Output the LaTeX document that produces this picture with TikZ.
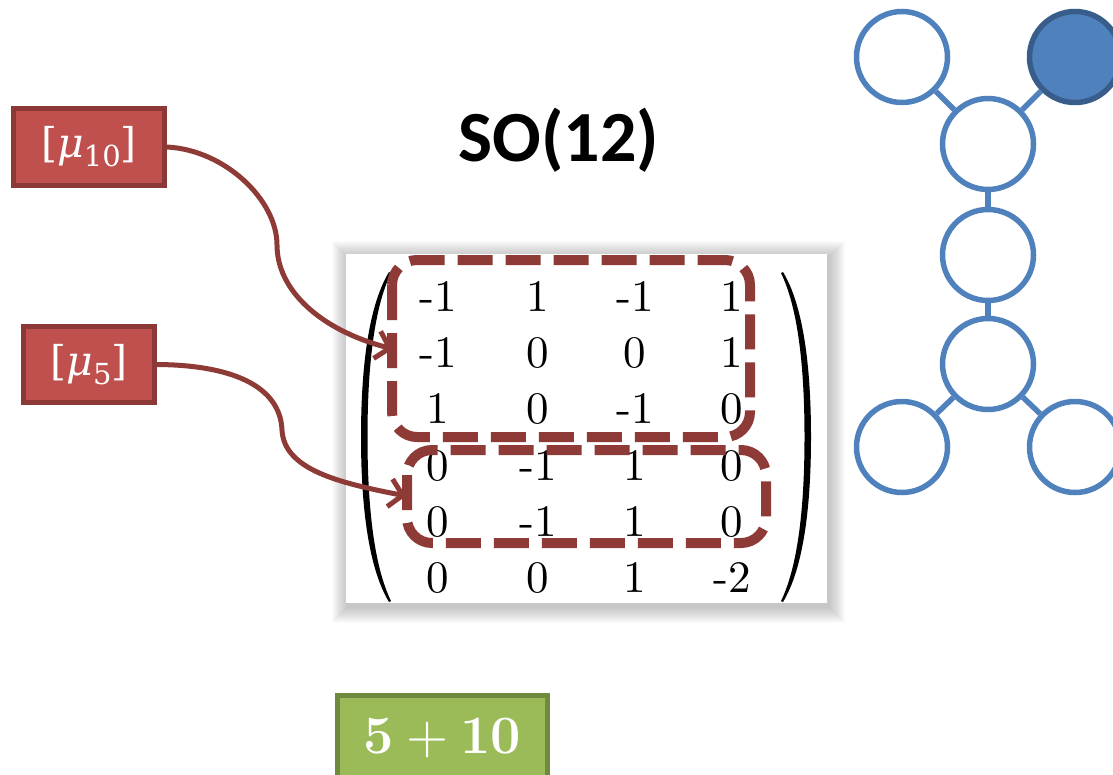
\documentclass[tikz,border=0pt]{standalone}
\usepackage{fontspec}
\usepackage{unicode-math}
\setmathfont{Latin Modern Math}
\newfontfamily\titlefont{Carlito}
\newfontfamily\labelfont{DejaVu Serif}
\newfontfamily\cmten{lmroman10-regular}[Extension=.otf]
\usetikzlibrary{arrows.meta}

\definecolor{boxred}{HTML}{C0504D}
\definecolor{edgered}{HTML}{8C3836}
\definecolor{linkred}{HTML}{8E3A37}
\definecolor{dynblue}{HTML}{4F81BD}
\definecolor{dynedge}{HTML}{385D8A}
\definecolor{boxgreen}{HTML}{9BBB59}
\definecolor{edgegreen}{HTML}{71893F}

% weight label: bracket, italic mu, lowered index, bracket
\newcommand{\weightlabel}[1]{[\textit{μ}\raisebox{-0.22em}{\fontsize{29}{30}\selectfont #1}]}

\tikzset{
  weightbox/.style={draw=edgered, fill=boxred, line width=5pt, text=white,
    inner sep=0pt, font=\labelfont\fontsize{41}{48}\selectfont},
  sumbox/.style={draw=edgegreen, fill=boxgreen, line width=5pt, text=white,
    inner sep=0pt, font=\fontsize{54}{60}\selectfont},
  entry/.style={anchor=base, inner sep=0pt, font=\cmten\fontsize{45}{50}\selectfont},
  group/.style={draw=linkred, line width=10pt, rounded corners=25pt,
    dash pattern=on 35pt off 13pt},
  link/.style={draw=linkred, line width=5pt,
    -{Straight Barb[length=13pt,width=28pt]}},
  dyn/.style={circle, draw=dynblue, fill=white, line width=5.5pt,
    minimum size=91pt, inner sep=0pt},
  dynfull/.style={dyn, draw=dynedge, fill=dynblue},
  dynlink/.style={draw=dynblue, line width=5.5pt},
}

\begin{document}
\begin{tikzpicture}[x=1pt, y=-1pt]
\useasboundingbox (0,0) rectangle (1113,774);
\clip (0,0) rectangle (1113,774);

% title
\node[font=\titlefont\bfseries\fontsize{72}{84}\selectfont] (title) at (559,140) {SO(12)};

% weight boxes
\node[weightbox, minimum width=151pt, minimum height=77pt] (w10) at (89,147) {\weightlabel{10}};
\node[weightbox, minimum width=131pt, minimum height=76pt] (w5) at (89,364.5) {\weightlabel{5}};

% matrix panel with soft shadow
\foreach \s in {1,...,16}
  \fill[black, opacity=0.014] ({346-\s+2},{254-\s+3}) rectangle ({827+\s+2},{603+\s+4});
\node[fill=white, minimum width=481pt, minimum height=349pt, inner sep=0pt] (panel) at (586.5,428.5) {};

% parentheses
\fill (389,272) .. controls (369,305) and (361,365) .. (361,437)
  .. controls (361,509) and (369,569) .. (389,602) -- (391,601)
  .. controls (374,566) and (367.5,507) .. (367.5,437)
  .. controls (367.5,367) and (374,308) .. (391,273) -- cycle;
\fill (783,272) .. controls (803,305) and (811,365) .. (811,437)
  .. controls (811,509) and (803,569) .. (783,602) -- (781,601)
  .. controls (798,566) and (804.5,507) .. (804.5,437)
  .. controls (804.5,367) and (798,308) .. (781,273) -- cycle;

% matrix entries
\foreach \row/\y/\a/\b/\c/\d in {1/311/-1/1/-1/1, 2/367/-1/0/0/1, 3/423/1/0/-1/0,
                                  4/480/0/-1/1/0, 5/536/0/-1/1/0, 6/592/0/0/1/-2} {
  \node[entry] (m-\row-1) at (438,\y) {\a};
  \node[entry] (m-\row-2) at (538,\y) {\b};
  \node[entry] (m-\row-3) at (635,\y) {\c};
  \node[entry] (m-\row-4) at (732,\y) {\d};
}

% dashed groupings of rows
\draw[group] (392,260) rectangle (750,437);
\draw[group] (407,450) rectangle (766,543);

% connectors from the weights to the row groups
\coordinate (t10) at (393,349);
\coordinate (t5) at (406,496);
\draw[link] (w10.east) .. controls (225,150) and (277,200) .. (277,245)
  .. controls (277,290) and (320,330) .. (t10);
\draw[link] (w5.east) .. controls (230,365) and (280,385) .. (282,430)
  .. controls (284,470) and (340,483) .. (t5);

% Dynkin diagram
\node[dyn] (d1) at (902,57) {};
\node[dynfull] (d2) at (1075,57) {};
\node[dyn] (d3) at (988,144) {};
\node[dyn] (d4) at (988,255) {};
\node[dyn] (d5) at (988,364) {};
\node[dyn] (d6) at (902,447) {};
\node[dyn] (d7) at (1075,447) {};
\draw[dynlink] (d1) -- (d3);
\draw[dynlink] (d2) -- (d3);
\draw[dynlink] (d3) -- (d4);
\draw[dynlink] (d4) -- (d5);
\draw[dynlink] (d5) -- (d6);
\draw[dynlink] (d5) -- (d7);

% sum box
\node[sumbox, anchor=base, minimum width=210pt, text height=58pt, text depth=47pt] (sum) at (442.5,753) {$\mathbf{5}+\mathbf{10}$};
\end{tikzpicture}
\end{document}
